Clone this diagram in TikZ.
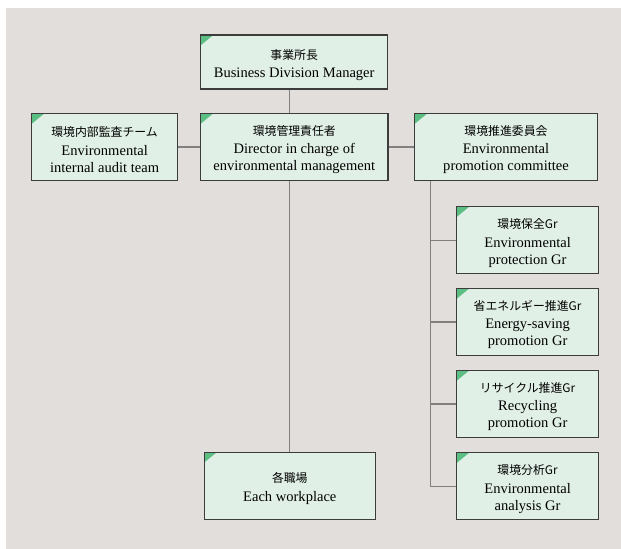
\documentclass[tikz,border=0pt]{standalone}
\usepackage{fontspec}
\setmainfont{Liberation Serif}
\newfontfamily\jpfont{Noto Sans CJK JP}
\usetikzlibrary{calc}
\definecolor{bgpaper}{RGB}{226,222,219}
\definecolor{boxfill}{RGB}{225,240,230}
\definecolor{boxline}{RGB}{60,60,60}
\definecolor{cornergreen}{RGB}{92,190,130}
\definecolor{linkgray}{RGB}{128,128,128}
\newcommand{\jp}[1]{{\jpfont\fontsize{8.9pt}{12.8pt}\selectfont\rule{0pt}{11.7pt}#1}}

\begin{document}
\begin{tikzpicture}[x=0.75pt, y=-0.75pt,
	orgbox/.style={draw=boxline, line width=0.9pt, fill=boxfill, align=center,
		inner sep=0pt, minimum height=50.4pt,
		font=\fontsize{10.9pt}{12.8pt}\selectfont,
		path picture={\fill[cornergreen] (path picture bounding box.north west)
			-- ++(9.5pt,0pt) -- ++(-9.5pt,-7.8pt) -- cycle;}},
	link/.style={draw=linkgray, line width=1pt}]

% ==== background ====
\useasboundingbox (0,0) rectangle (621,549);
\fill[bgpaper] (6,8) rectangle (621,549);

% ==== top rows ====
\node[orgbox, minimum width=140.3pt, minimum height=40.5pt] (mgr) at (294.2,62)
	{\jp{事業所長}\\[1pt]Business Division Manager};
\node[orgbox, minimum width=140.5pt] (dir) at (294.3,147)
	{\jp{環境管理責任者}\\[1pt]Director in charge of\\environmental management};
\node[orgbox, minimum width=109.3pt] (aud) at (104.6,147)
	{\jp{環境内部監査チーム}\\[1pt]Environmental\\internal audit team};
\node[orgbox, minimum width=136.9pt] (cmt) at (506,147)
	{\jp{環境推進委員会}\\[1pt]Environmental\\promotion committee};

% ==== committee groups ====
\node[orgbox, minimum width=106.4pt] (grA) at (527.6,240.2)
	{\jp{環境保全Gr}\\[1pt]Environmental\\protection Gr};
\node[orgbox, minimum width=106.4pt] (grB) at (527.6,322)
	{\jp{省エネルギー推進Gr}\\[1pt]Energy-saving\\promotion Gr};
\node[orgbox, minimum width=106.4pt] (grC) at (527.6,404)
	{\jp{リサイクル推進Gr}\\[1pt]Recycling\\promotion Gr};
\node[orgbox, minimum width=106.4pt] (grD) at (527.6,486.2)
	{\jp{環境分析Gr}\\[1pt]Environmental\\analysis Gr};

% ==== workplaces ====
\node[orgbox, minimum width=128.3pt] (wrk) at (289.8,485.7)
	{\jp{各職場}\\[1pt]Each workplace};

% ==== connectors ====
\draw[link] (mgr.south -| wrk.north) -- (dir.north -| wrk.north);
\draw[link] (dir.south -| wrk.north) -- (wrk.north);
\draw[link] (aud.east) -- (aud.east -| dir.west);
\draw[link] (dir.east) -- (dir.east -| cmt.west);

\coordinate (spine) at ($(cmt.south west)+(16.3,0)$);
\draw[link] (spine) |- (grA.west);
\draw[link] (spine) |- (grB.west);
\draw[link] (spine) |- (grC.west);
\draw[link] (spine) |- (grD.west);

\end{tikzpicture}
\end{document}
